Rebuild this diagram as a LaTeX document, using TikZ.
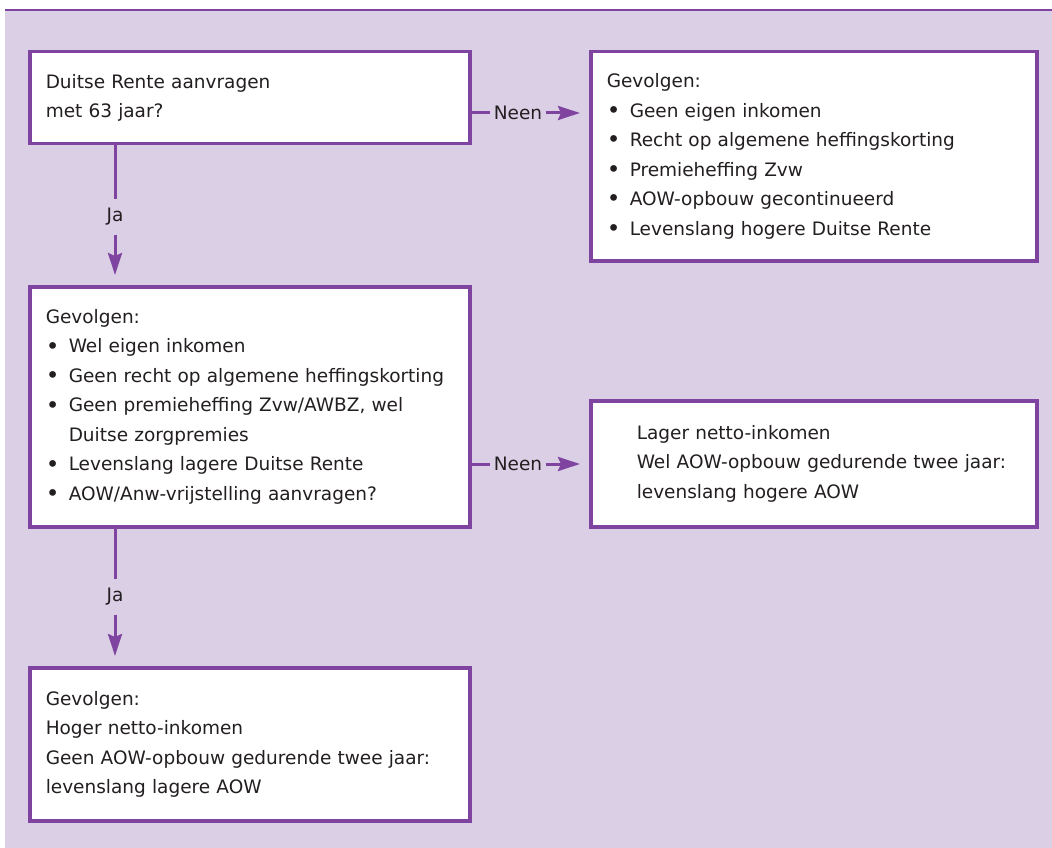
\documentclass[tikz,border=0pt]{standalone}
\usepackage{fontspec}
\setmainfont{DejaVu Sans}
\usetikzlibrary{arrows.meta,positioning}
\definecolor{paars}{RGB}{126,68,160}
\definecolor{lila}{RGB}{219,207,230}
\definecolor{tekst}{RGB}{35,31,32}
\newcommand{\bol}{\makebox[23pt][l]{\raisebox{-1.2pt}{\scalebox{1.25}{\textbullet}}}}
\newcommand{\inspr}{\hspace*{30pt}}
\begin{document}
\begin{tikzpicture}[
    x=1pt, y=-1pt,
    every node/.style = {font=\fontsize{18.5}{29.5}\selectfont, text=tekst},
    blok/.style = {draw=paars, line width=3.5pt, fill=white, anchor=north west,
                   align=left, inner xsep=16pt, inner ysep=0pt},
    links/.style = {blok, minimum width=440pt, text width=408pt},
    rechts/.style = {blok, minimum width=446pt, text width=414pt},
    keuze/.style = {inner xsep=3.5pt, inner ysep=9pt},
    lijn/.style = {draw=paars, line width=3pt},
    pijl/.style = {lijn, -{Stealth[length=22pt,width=14pt,inset=3pt,fill=paars]}}
    ]
    \useasboundingbox (0,0) rectangle (1052,848);
    \fill[lila] (5,9) rectangle (1052,848);
    \draw[paars, line width=2.5pt] (5,10) -- (1052,10);

    \node[links, minimum height=92pt] (aanvraag) at (28,50)
      {Duitse Rente aanvragen\\met 63 jaar?};
    \node[rechts, minimum height=209pt] (gevolgNee) at (589,50)
      {Gevolgen:\\
       \bol Geen eigen inkomen\\
       \bol Recht op algemene heffingskorting\\
       \bol Premieheffing Zvw\\
       \bol AOW-opbouw gecontinueerd\\
       \bol Levenslang hogere Duitse Rente};
    \node[links, minimum height=240pt] (gevolgJa) at (28,285)
      {Gevolgen:\\
       \bol Wel eigen inkomen\\
       \bol Geen recht op algemene heffingskorting\\
       \bol Geen premieheffing Zvw/AWBZ, wel\\
       \hspace*{23pt}Duitse zorgpremies\\
       \bol Levenslang lagere Duitse Rente\\
       \bol AOW/Anw-vrijstelling aanvragen?};
    \node[rechts, minimum height=126pt] (geenVrijst) at (589,399)
      {\inspr Lager netto-inkomen\\
       \inspr Wel AOW-opbouw gedurende twee jaar:\\
       \inspr levenslang hogere AOW};
    \node[links, minimum height=153pt] (vrijst) at (28,666)
      {Gevolgen:\\
       Hoger netto-inkomen\\
       Geen AOW-opbouw gedurende twee jaar:\\
       levenslang lagere AOW};

    \node[keuze] (ja1) at (115,217) {Ja};
    \node[keuze] (ja2) at (115,597) {Ja};
    \node[keuze] (nee1) at (518,113) {Neen};
    \node[keuze] (nee2) at (518,464) {Neen};

    \draw[lijn] (ja1 |- aanvraag.south) -- (ja1.north);
    \draw[pijl, shorten >=10pt] (ja1.south) -- (ja1 |- gevolgJa.north);
    \draw[lijn] (ja2 |- gevolgJa.south) -- (ja2.north);
    \draw[pijl, shorten >=10pt] (ja2.south) -- (ja2 |- vrijst.north);
    \draw[lijn] (nee1.west -| aanvraag.east) -- (nee1.west);
    \draw[pijl, shorten >=9pt] (nee1.east) -- (nee1.east -| gevolgNee.west);
    \draw[lijn] (nee2.west -| gevolgJa.east) -- (nee2.west);
    \draw[pijl, shorten >=9pt] (nee2.east) -- (nee2.east -| geenVrijst.west);
\end{tikzpicture}
\end{document}
